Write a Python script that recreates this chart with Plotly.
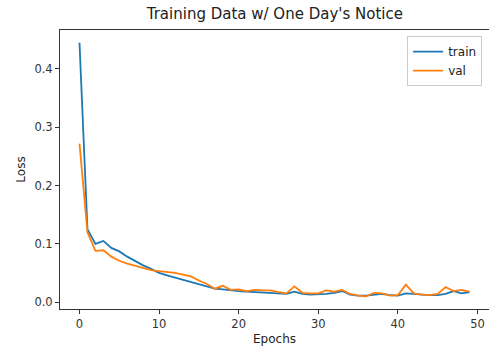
import plotly.graph_objects as go

epochs = list(range(50))
train = [0.445, 0.125, 0.100, 0.105, 0.093, 0.087, 0.078, 0.070, 0.063, 0.057,
         0.050, 0.046, 0.042, 0.039, 0.035, 0.030, 0.026, 0.023, 0.022, 0.020,
         0.019, 0.018, 0.017, 0.017, 0.016, 0.015, 0.014, 0.018, 0.014, 0.013,
         0.013, 0.014, 0.016, 0.019, 0.013, 0.011, 0.011, 0.013, 0.014, 0.012,
         0.011, 0.015, 0.014, 0.012, 0.012, 0.012, 0.014, 0.019, 0.015, 0.017]
val = [0.272, 0.120, 0.088, 0.089, 0.078, 0.071, 0.066, 0.062, 0.058, 0.055,
       0.053, 0.052, 0.050, 0.047, 0.044, 0.037, 0.031, 0.023, 0.028, 0.021,
       0.022, 0.019, 0.021, 0.020, 0.020, 0.017, 0.015, 0.027, 0.016, 0.015,
       0.015, 0.020, 0.018, 0.021, 0.014, 0.011, 0.010, 0.016, 0.015, 0.011,
       0.012, 0.030, 0.015, 0.013, 0.012, 0.014, 0.026, 0.019, 0.021, 0.018]
x_ticks = [0, 10, 20, 30, 40, 50]
y_ticks = [0.0, 0.1, 0.2, 0.3, 0.4]

fig = go.Figure()
fig.add_trace(go.Scatter(x=epochs, y=train, mode="lines", name="train",
                         line=dict(color="#1f77b4", width=1.8)))
fig.add_trace(go.Scatter(x=epochs, y=val, mode="lines", name="val",
                         line=dict(color="#ff7f0e", width=1.8)))

font = "DejaVu Sans"
fig.update_layout(
    width=489, height=351,
    margin=dict(l=60, r=0, t=30, b=42),
    paper_bgcolor="white", plot_bgcolor="white",
    font=dict(family=font, size=11.5, color="#333333"),
    title=dict(text="Training Data w/ One Day's Notice", x=0.562, xanchor="center",
               y=0.96, yanchor="middle", font=dict(family=font, size=15, color="#222222")),
    showlegend=True,
    legend=dict(x=0.984, y=0.978, xanchor="right", yanchor="top",
                bgcolor="rgba(255,255,255,0.8)", bordercolor="#cccccc", borderwidth=1,
                font=dict(family=font, size=12, color="#222222"),
                tracegroupgap=0, itemwidth=30),
)
fig.update_xaxes(
    range=[-2.45, 51.45], tickvals=x_ticks, ticks="outside", ticklen=4, tickwidth=1,
    tickcolor="#333333", showgrid=False, zeroline=False, showline=True, mirror=True,
    linecolor="#333333", linewidth=1,
    title=dict(text="Epochs", font=dict(family=font, size=12, color="#222222"), standoff=4),
)
fig.update_yaxes(
    range=[-0.0118, 0.4668], tickvals=y_ticks, tickformat=".1f", ticks="outside", ticklen=4,
    tickwidth=1, tickcolor="#333333", showgrid=False, zeroline=False, showline=True,
    mirror=True, linecolor="#333333", linewidth=1,
    title=dict(text="Loss", font=dict(family=font, size=12, color="#222222"), standoff=6),
)

fig.write_html("out.html")
